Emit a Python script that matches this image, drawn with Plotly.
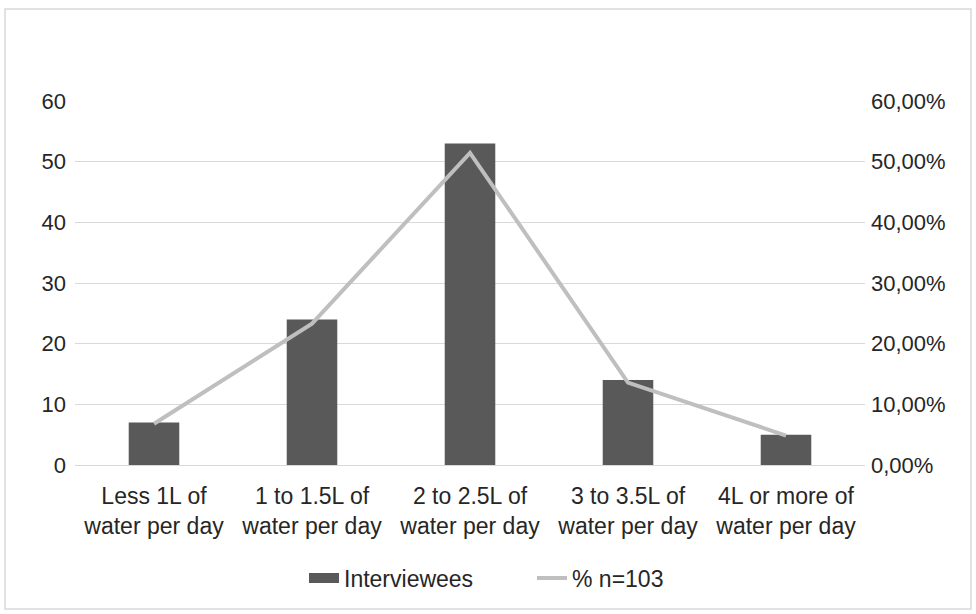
import plotly.graph_objects as go

categories = ["Less 1L of<br>water per day", "1 to 1.5L of<br>water per day", "2 to 2.5L of<br>water per day",
              "3 to 3.5L of<br>water per day", "4L or more of<br>water per day"]
interviewees = [7, 24, 53, 14, 5]
total = 103
percent = [v / total for v in interviewees]

W, H = 976, 614
L, R, T, B = 75, 111, 101, 149
pw, ph = W - L - R, H - T - B
FS = 22
TXT = "#262626"

fig = go.Figure()
fig.add_trace(go.Bar(x=categories, y=interviewees, name="Interviewees", showlegend=False,
                     marker=dict(color="#595959", line=dict(width=0)), width=0.32))
# legend entry for the bars (wide block like the reference)
fig.add_trace(go.Scatter(x=[None], y=[None], name="Interviewees", mode="lines",
                         line=dict(color="#595959", width=10), showlegend=True))
fig.add_trace(go.Scatter(x=categories, y=percent, name="% n=103", yaxis="y2",
                         mode="lines", line=dict(color="#BFBFBF", width=4)))

def px(x):
    return (x - L) / pw

def py(y):
    return (H - B - y) / ph

fig.update_layout(
    width=W, height=H,
    margin=dict(l=L, r=R, t=T, b=B, pad=0),
    paper_bgcolor="white", plot_bgcolor="white",
    separators=",.",
    font=dict(family="Liberation Sans, Arial, sans-serif", size=FS, color=TXT),
    xaxis=dict(showgrid=False, showline=True, linecolor="#D9D9D9", linewidth=1,
               ticks="", tickfont=dict(size=23, color=TXT), ticklabelstandoff=10),
    yaxis=dict(range=[0, 60], dtick=10, showgrid=True, gridcolor="#D9D9D9",
               zeroline=False, ticks="", tickfont=dict(size=FS, color=TXT),
               ticklabelstandoff=8),
    yaxis2=dict(range=[0, 0.6], dtick=0.1, overlaying="y", side="right",
                tickformat=".2%", showgrid=False, zeroline=False, ticks="",
                tickfont=dict(size=FS, color=TXT), ticklabelstandoff=5),
    showlegend=True,
    legend=dict(orientation="h", x=px(532), xanchor="center", y=py(578), yanchor="middle",
                font=dict(size=23, color=TXT), traceorder="normal", entrywidth=183),
    shapes=[dict(type="rect", xref="paper", yref="paper",
                 x0=px(5), x1=px(971), y0=py(609), y1=py(9),
                 line=dict(color="#D9D9D9", width=1.5), fillcolor="rgba(0,0,0,0)", layer="below")],
)
fig.write_html("out.html", config={"displayModeBar": False},
               post_script="document.body.style.margin='0px';document.body.style.overflow='hidden';")
